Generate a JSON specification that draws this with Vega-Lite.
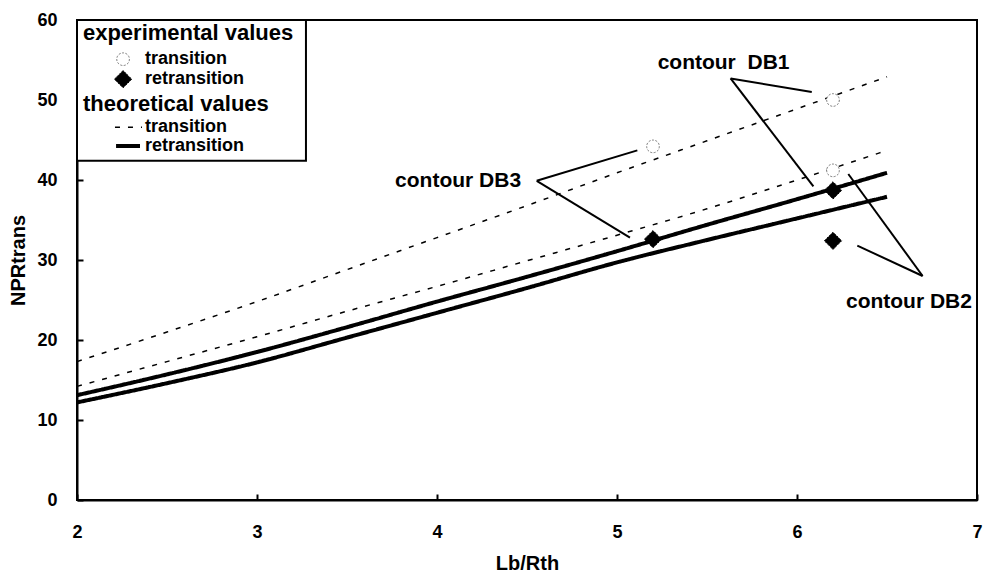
{
  "$schema": "https://vega.github.io/schema/vega-lite/v6.json",
  "width": 900,
  "height": 480,
  "autosize": {"type": "none"},
  "padding": {"left": 77, "top": 20, "right": 6, "bottom": 73},
  "background": "white",
  "config": {
    "view": {"stroke": "black", "strokeWidth": 2},
    "font": "Liberation Sans",
    "axis": {
      "grid": false,
      "domainColor": "black",
      "domainWidth": 2,
      "tickColor": "black",
      "tickWidth": 2,
      "tickSize": -6,
      "labelFlush": false,
      "labelFont": "Liberation Sans",
      "labelFontWeight": "bold",
      "labelFontSize": 18,
      "labelColor": "black",
      "titleFont": "Liberation Sans",
      "titleFontWeight": "bold",
      "titleFontSize": 20,
      "titleColor": "black"
    }
  },
  "datasets": {
    "curves": [
      {"x": 2.0, "y": 17.3, "curve": "c1", "theo": "transition"},
      {"x": 2.5, "y": 21.0, "curve": "c1", "theo": "transition"},
      {"x": 3.0, "y": 24.8, "curve": "c1", "theo": "transition"},
      {"x": 3.5, "y": 28.8, "curve": "c1", "theo": "transition"},
      {"x": 4.0, "y": 32.8, "curve": "c1", "theo": "transition"},
      {"x": 4.5, "y": 36.8, "curve": "c1", "theo": "transition"},
      {"x": 5.0, "y": 40.9, "curve": "c1", "theo": "transition"},
      {"x": 5.5, "y": 44.9, "curve": "c1", "theo": "transition"},
      {"x": 6.0, "y": 48.9, "curve": "c1", "theo": "transition"},
      {"x": 6.5, "y": 52.9, "curve": "c1", "theo": "transition"},
      {"x": 2.0, "y": 14.2, "curve": "c2", "theo": "transition"},
      {"x": 2.5, "y": 17.3, "curve": "c2", "theo": "transition"},
      {"x": 3.0, "y": 20.4, "curve": "c2", "theo": "transition"},
      {"x": 3.5, "y": 23.6, "curve": "c2", "theo": "transition"},
      {"x": 4.0, "y": 26.7, "curve": "c2", "theo": "transition"},
      {"x": 4.5, "y": 29.9, "curve": "c2", "theo": "transition"},
      {"x": 5.0, "y": 33.1, "curve": "c2", "theo": "transition"},
      {"x": 5.5, "y": 36.4, "curve": "c2", "theo": "transition"},
      {"x": 6.0, "y": 40.0, "curve": "c2", "theo": "transition"},
      {"x": 6.5, "y": 43.7, "curve": "c2", "theo": "transition"},
      {"x": 2.0, "y": 13.1, "curve": "c3", "theo": "retransition"},
      {"x": 2.5, "y": 15.7, "curve": "c3", "theo": "retransition"},
      {"x": 3.0, "y": 18.5, "curve": "c3", "theo": "retransition"},
      {"x": 3.5, "y": 21.6, "curve": "c3", "theo": "retransition"},
      {"x": 4.0, "y": 24.8, "curve": "c3", "theo": "retransition"},
      {"x": 4.5, "y": 27.9, "curve": "c3", "theo": "retransition"},
      {"x": 5.0, "y": 31.1, "curve": "c3", "theo": "retransition"},
      {"x": 5.5, "y": 34.4, "curve": "c3", "theo": "retransition"},
      {"x": 6.0, "y": 37.6, "curve": "c3", "theo": "retransition"},
      {"x": 6.5, "y": 40.9, "curve": "c3", "theo": "retransition"},
      {"x": 2.0, "y": 12.2, "curve": "c4", "theo": "retransition"},
      {"x": 2.5, "y": 14.6, "curve": "c4", "theo": "retransition"},
      {"x": 3.0, "y": 17.2, "curve": "c4", "theo": "retransition"},
      {"x": 3.5, "y": 20.3, "curve": "c4", "theo": "retransition"},
      {"x": 4.0, "y": 23.4, "curve": "c4", "theo": "retransition"},
      {"x": 4.5, "y": 26.5, "curve": "c4", "theo": "retransition"},
      {"x": 5.0, "y": 29.7, "curve": "c4", "theo": "retransition"},
      {"x": 5.5, "y": 32.5, "curve": "c4", "theo": "retransition"},
      {"x": 6.0, "y": 35.2, "curve": "c4", "theo": "retransition"},
      {"x": 6.5, "y": 37.9, "curve": "c4", "theo": "retransition"}
    ],
    "points": [
      {"x": 5.2, "y": 44.2, "exp": "transition"},
      {"x": 6.2, "y": 50.0, "exp": "transition"},
      {"x": 6.2, "y": 41.2, "exp": "transition"},
      {"x": 5.2, "y": 32.6, "exp": "retransition"},
      {"x": 6.2, "y": 38.7, "exp": "retransition"},
      {"x": 6.2, "y": 32.4, "exp": "retransition"},
      {"x": 2.256, "y": 55.1, "exp": "transition"},
      {"x": 2.256, "y": 52.6, "exp": "retransition"}
    ],
    "legendLines": [
      {"x": 2.211, "y": 46.6, "theo": "transition"},
      {"x": 2.361, "y": 46.6, "theo": "transition"},
      {"x": 2.217, "y": 44.25, "theo": "retransition"},
      {"x": 2.35, "y": 44.25, "theo": "retransition"}
    ],
    "legendTitles": [
      {"x": 2.033, "y": 58.4, "text": "experimental values"},
      {"x": 2.033, "y": 49.5, "text": "theoretical values"}
    ],
    "legendLabels": [
      {"x": 2.378, "y": 55.1, "text": "transition"},
      {"x": 2.378, "y": 52.6, "text": "retransition"},
      {"x": 2.378, "y": 46.6, "text": "transition"},
      {"x": 2.378, "y": 44.25, "text": "retransition"}
    ],
    "leaders": [
      {"x": 5.631, "y": 52.7, "x2": 6.082, "y2": 51.0},
      {"x": 5.631, "y": 52.7, "x2": 6.091, "y2": 39.2},
      {"x": 4.554, "y": 39.9, "x2": 5.113, "y2": 43.7},
      {"x": 4.554, "y": 39.9, "x2": 5.072, "y2": 32.8},
      {"x": 6.698, "y": 28.0, "x2": 6.285, "y2": 40.75},
      {"x": 6.698, "y": 28.0, "x2": 6.335, "y2": 31.8}
    ],
    "labels": [
      {"x": 5.592, "y": 54.6, "text": "contour\u00a0\u00a0DB1"},
      {"x": 4.117, "y": 39.9, "text": "contour DB3"},
      {"x": 6.622, "y": 24.75, "text": "contour DB2"}
    ],
    "box": [
      {"x": 2.0, "x2": 3.272, "y": 42.4, "y2": 60}
    ]
  },
  "layer": [
    {
      "data": {"name": "box"},
      "mark": {"type": "rect", "fill": "white", "stroke": "black", "strokeWidth": 2},
      "encoding": {
        "x": {"field": "x", "type": "quantitative", "scale": {"domain": [2, 7]}, "axis": {"values": [2, 3, 4, 5, 6, 7], "format": "d", "title": "Lb/Rth", "labelPadding": 29, "titlePadding": 12}},
        "x2": {"field": "x2"},
        "y": {"field": "y", "type": "quantitative", "scale": {"domain": [0, 60]}, "axis": {"values": [0, 10, 20, 30, 40, 50, 60], "format": "d", "title": "NPRtrans", "labelPadding": 26, "titlePadding": 8}},
        "y2": {"field": "y2"}
      }
    },
    {
      "data": {"name": "curves"},
      "mark": {"type": "line", "color": "black", "interpolate": "monotone"},
      "encoding": {
        "x": {"field": "x", "type": "quantitative"},
        "y": {"field": "y", "type": "quantitative"},
        "detail": {"field": "curve"},
        "strokeDash": {"field": "theo", "type": "nominal", "scale": {"domain": ["transition", "retransition"], "range": [[5, 8], [1, 0]]}, "legend": null},
        "strokeWidth": {"field": "theo", "type": "nominal", "scale": {"domain": ["transition", "retransition"], "range": [1.5, 4]}, "legend": null}
      }
    },
    {
      "data": {"name": "legendLines"},
      "mark": {"type": "line", "color": "black"},
      "encoding": {
        "x": {"field": "x", "type": "quantitative"},
        "y": {"field": "y", "type": "quantitative"},
        "detail": {"field": "theo"},
        "strokeDash": {"field": "theo", "type": "nominal", "legend": null},
        "strokeWidth": {"field": "theo", "type": "nominal", "legend": null}
      }
    },
    {
      "data": {"name": "points"},
      "mark": {"type": "point", "strokeDash": [2, 1.5], "strokeWidth": 1, "opacity": 1},
      "encoding": {
        "x": {"field": "x", "type": "quantitative"},
        "y": {"field": "y", "type": "quantitative"},
        "shape": {"field": "exp", "type": "nominal", "scale": {"domain": ["transition", "retransition"], "range": ["circle", "diamond"]}, "legend": null},
        "fill": {"field": "exp", "type": "nominal", "scale": {"domain": ["transition", "retransition"], "range": ["white", "black"]}, "legend": null},
        "stroke": {"field": "exp", "type": "nominal", "scale": {"domain": ["transition", "retransition"], "range": ["#777777", "black"]}, "legend": null},
        "size": {"field": "exp", "type": "nominal", "scale": {"domain": ["transition", "retransition"], "range": [160, 300]}, "legend": null}
      }
    },
    {
      "data": {"name": "leaders"},
      "mark": {"type": "rule", "color": "black", "strokeWidth": 2},
      "encoding": {
        "x": {"field": "x", "type": "quantitative"},
        "y": {"field": "y", "type": "quantitative"},
        "x2": {"field": "x2"},
        "y2": {"field": "y2"}
      }
    },
    {
      "data": {"name": "labels"},
      "mark": {"type": "text", "font": "Liberation Sans", "fontWeight": "bold", "fontSize": 21, "color": "black", "align": "center", "baseline": "middle"},
      "encoding": {
        "x": {"field": "x", "type": "quantitative"},
        "y": {"field": "y", "type": "quantitative"},
        "text": {"field": "text"}
      }
    },
    {
      "data": {"name": "legendTitles"},
      "mark": {"type": "text", "font": "Liberation Sans", "fontWeight": "bold", "fontSize": 22, "color": "black", "align": "left", "baseline": "middle"},
      "encoding": {
        "x": {"field": "x", "type": "quantitative"},
        "y": {"field": "y", "type": "quantitative"},
        "text": {"field": "text"}
      }
    },
    {
      "data": {"name": "legendLabels"},
      "mark": {"type": "text", "font": "Liberation Sans", "fontWeight": "bold", "fontSize": 18, "color": "black", "align": "left", "baseline": "middle"},
      "encoding": {
        "x": {"field": "x", "type": "quantitative"},
        "y": {"field": "y", "type": "quantitative"},
        "text": {"field": "text"}
      }
    }
  ]
}
